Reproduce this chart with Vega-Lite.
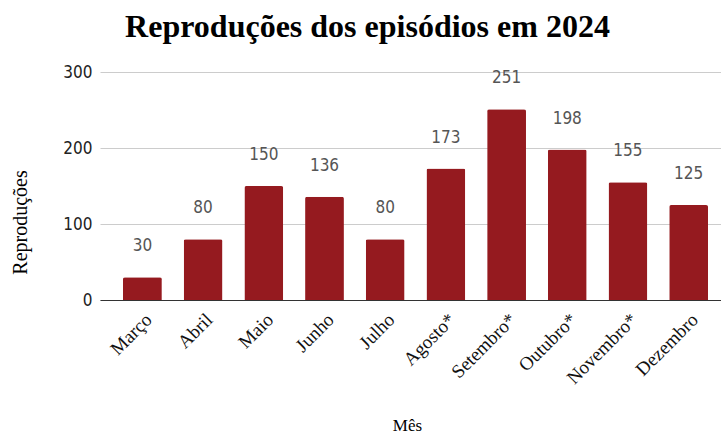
{
  "$schema": "https://vega.github.io/schema/vega-lite/v6.json",
  "width": 621,
  "height": 228,
  "autosize": {"type": "none"},
  "padding": {"left": 100, "top": 72, "right": 0, "bottom": 133},
  "background": "white",
  "title": {
    "text": "Reproduções dos episódios em 2024",
    "font": "Liberation Serif",
    "fontSize": 32,
    "fontWeight": "bold",
    "color": "#000000",
    "anchor": "middle",
    "dx": -43,
    "offset": 19
  },
  "data": {
    "values": [
      {"mes": "Março", "v": 30},
      {"mes": "Abril", "v": 80},
      {"mes": "Maio", "v": 150},
      {"mes": "Junho", "v": 136},
      {"mes": "Julho", "v": 80},
      {"mes": "Agosto*", "v": 173},
      {"mes": "Setembro*", "v": 251},
      {"mes": "Outubro*", "v": 198},
      {"mes": "Novembro*", "v": 155},
      {"mes": "Dezembro", "v": 125}
    ]
  },
  "config": {
    "view": {"stroke": null},
    "axis": {"labelFont": "Liberation Sans Narrow, DejaVu Sans Condensed, sans-serif"}
  },
  "encoding": {
    "x": {
      "field": "mes",
      "type": "nominal",
      "sort": null,
      "scale": {"paddingInner": 0.36, "paddingOuter": 0.296, "align": 0.64},
      "axis": {
        "title": "Mês",
        "titleFont": "Liberation Serif",
        "titleFontSize": 17,
        "titleFontWeight": "normal",
        "titleColor": "#000000",
        "titleX": 307,
        "titleY": 125,
        "titleBaseline": "middle",
        "labelAngle": -45,
        "labelFont": "Liberation Serif",
        "labelFontSize": 19,
        "labelColor": "#111111",
        "labelPadding": 10,
        "ticks": false,
        "domainColor": "#333333",
        "domainWidth": 1
      }
    },
    "y": {
      "field": "v",
      "type": "quantitative",
      "scale": {"domain": [0, 300]},
      "axis": {
        "title": "Reproduções",
        "titleFont": "Liberation Serif",
        "titleFontSize": 20,
        "titleFontWeight": "normal",
        "titleColor": "#000000",
        "titleX": -80,
        "titleY": 150,
        "titleAngle": -90,
        "titleAlign": "center",
        "titleBaseline": "middle",
        "values": [0, 100, 200, 300],
        "labelFontSize": 17,
        "labelColor": "#222222",
        "labelPadding": 8,
        "ticks": false,
        "domain": false,
        "gridColor": "#cccccc",
        "gridWidth": 1
      }
    }
  },
  "layer": [
    {
      "mark": {"type": "bar", "color": "#951a1f", "cornerRadiusTopLeft": 2, "cornerRadiusTopRight": 2}
    },
    {
      "mark": {
        "type": "text",
        "dy": -31,
        "baseline": "middle",
        "font": "Liberation Sans Narrow, DejaVu Sans Condensed, sans-serif",
        "fontSize": 17,
        "color": "#555555"
      },
      "encoding": {"text": {"field": "v", "type": "quantitative"}}
    }
  ]
}
